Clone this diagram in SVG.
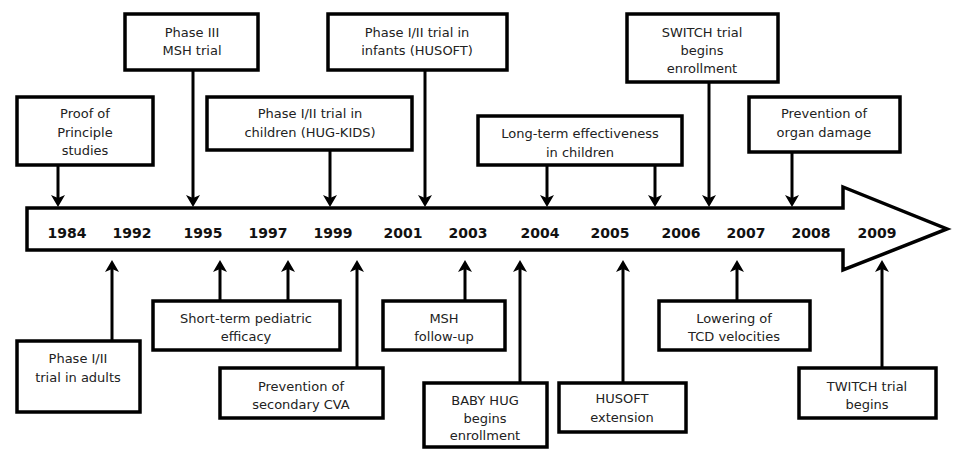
<svg xmlns="http://www.w3.org/2000/svg" width="953" height="449" viewBox="0 0 953 449">
<style>
.box{fill:#fff;stroke:#000;stroke-width:3.5}
.t{font-family:"DejaVu Sans",Verdana,sans-serif;font-size:13px;fill:#222;text-anchor:middle}
.yr{font-family:"DejaVu Sans",Verdana,sans-serif;font-size:14px;font-weight:bold;fill:#111;text-anchor:middle}
.c{stroke:#000;stroke-width:3;fill:none;marker-end:url(#ah)}
</style>
<defs>
<marker id="ah" markerUnits="userSpaceOnUse" viewBox="0 0 12 14" refX="4" refY="7" markerWidth="12" markerHeight="14" orient="auto">
<path d="M0,0 L12,7 L0,14 L3,7 Z" fill="#000"/>
</marker>
</defs>
<g id="timeline">
<polygon points="27,208 843,208 843,187 947,229 843,270 843,250 27,250" fill="#fff" stroke="#000" stroke-width="3.5" stroke-linejoin="miter"/>
<text class="yr" x="67" y="238">1984</text>
<text class="yr" x="132" y="238">1992</text>
<text class="yr" x="203" y="238">1995</text>
<text class="yr" x="268" y="238">1997</text>
<text class="yr" x="333" y="238">1999</text>
<text class="yr" x="403" y="238">2001</text>
<text class="yr" x="468" y="238">2003</text>
<text class="yr" x="540" y="238">2004</text>
<text class="yr" x="610" y="238">2005</text>
<text class="yr" x="681" y="238">2006</text>
<text class="yr" x="746" y="238">2007</text>
<text class="yr" x="811" y="238">2008</text>
<text class="yr" x="877" y="238">2009</text>
</g>
<g id="connectors">
<line class="c" x1="58" y1="165" x2="58" y2="199"/>
<line class="c" x1="193" y1="70" x2="193" y2="199"/>
<line class="c" x1="330" y1="150" x2="330" y2="199"/>
<line class="c" x1="425" y1="70" x2="425" y2="199"/>
<line class="c" x1="547" y1="165" x2="547" y2="199"/>
<line class="c" x1="655" y1="165" x2="655" y2="199"/>
<line class="c" x1="709" y1="82" x2="709" y2="199"/>
<line class="c" x1="792" y1="152" x2="792" y2="199"/>
<line class="c" x1="112" y1="341" x2="112" y2="268"/>
<line class="c" x1="220" y1="301" x2="220" y2="268"/>
<line class="c" x1="288" y1="301" x2="288" y2="268"/>
<line class="c" x1="357" y1="368" x2="357" y2="268"/>
<line class="c" x1="465" y1="301" x2="465" y2="268"/>
<line class="c" x1="520" y1="383" x2="520" y2="268"/>
<line class="c" x1="623" y1="383" x2="623" y2="268"/>
<line class="c" x1="737" y1="301" x2="737" y2="268"/>
<line class="c" x1="882" y1="368" x2="882" y2="268"/>
</g>
<g id="proof">
<rect class="box" x="17" y="97" width="136" height="68"/>
<text class="t" x="85" y="118">Proof of</text>
<text class="t" x="85" y="137">Principle</text>
<text class="t" x="85" y="155">studies</text>
</g>
<g id="phase3">
<rect class="box" x="125" y="14" width="133" height="56"/>
<text class="t" x="192" y="37">Phase III</text>
<text class="t" x="192" y="55">MSH trial</text>
</g>
<g id="hugkids">
<rect class="box" x="207" y="97" width="205" height="53"/>
<text class="t" x="310" y="118">Phase I/II trial in</text>
<text class="t" x="310" y="137">children (HUG-KIDS)</text>
</g>
<g id="husoft">
<rect class="box" x="328" y="14" width="179" height="56"/>
<text class="t" x="417" y="37">Phase I/II trial in</text>
<text class="t" x="417" y="55">infants (HUSOFT)</text>
</g>
<g id="longterm">
<rect class="box" x="478" y="116" width="204" height="49"/>
<text class="t" x="580" y="138">Long-term effectiveness</text>
<text class="t" x="580" y="157">in children</text>
</g>
<g id="switch">
<rect class="box" x="627" y="14" width="151" height="68"/>
<text class="t" x="702" y="37">SWITCH trial</text>
<text class="t" x="702" y="55">begins</text>
<text class="t" x="702" y="73">enrollment</text>
</g>
<g id="organ">
<rect class="box" x="749" y="97" width="151" height="55"/>
<text class="t" x="824" y="118">Prevention of</text>
<text class="t" x="824" y="137">organ damage</text>
</g>
<g id="adults">
<rect class="box" x="17" y="341" width="123" height="71"/>
<text class="t" x="78" y="363">Phase I/II</text>
<text class="t" x="78" y="382">trial in adults</text>
</g>
<g id="shortterm">
<rect class="box" x="153" y="301" width="187" height="49"/>
<text class="t" x="246" y="323">Short-term pediatric</text>
<text class="t" x="246" y="341">efficacy</text>
</g>
<g id="cva">
<rect class="box" x="220" y="368" width="163" height="50"/>
<text class="t" x="301" y="391">Prevention of</text>
<text class="t" x="301" y="409">secondary CVA</text>
</g>
<g id="mshfollow">
<rect class="box" x="383" y="301" width="122" height="49"/>
<text class="t" x="444" y="323">MSH</text>
<text class="t" x="444" y="341">follow-up</text>
</g>
<g id="babyhug">
<rect class="box" x="424" y="383" width="123" height="64"/>
<text class="t" x="485" y="405">BABY HUG</text>
<text class="t" x="485" y="423">begins</text>
<text class="t" x="485" y="440">enrollment</text>
</g>
<g id="husoftext">
<rect class="box" x="559" y="383" width="127" height="49"/>
<text class="t" x="622" y="403">HUSOFT</text>
<text class="t" x="622" y="422">extension</text>
</g>
<g id="tcd">
<rect class="box" x="659" y="301" width="151" height="49"/>
<text class="t" x="734" y="323">Lowering of</text>
<text class="t" x="734" y="341">TCD velocities</text>
</g>
<g id="twitch">
<rect class="box" x="799" y="368" width="137" height="50"/>
<text class="t" x="867" y="391">TWITCH trial</text>
<text class="t" x="867" y="409">begins</text>
</g>
</svg>
